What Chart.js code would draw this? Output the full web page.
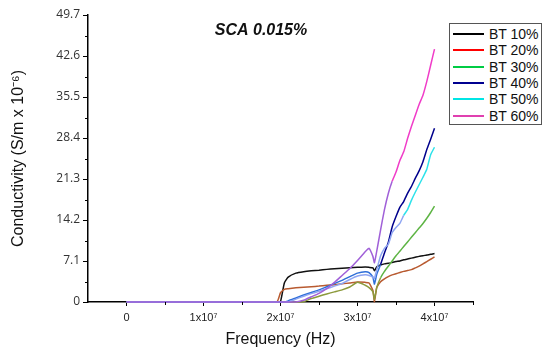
<!DOCTYPE html>
<html>
<head>
<meta charset="utf-8">
<script src="https://cdn.jsdelivr.net/npm/chart.js@4"></script>
<style>
  body { margin: 0; background: #fff; }
  #wrap { position: relative; width: 550px; height: 361px; }
  #legend {
    position: absolute; left: 449px; top: 23px; width: 93px; height: 102px;
    border: 1px solid #555; box-sizing: border-box; background: #fff;
    font: 14px "Liberation Sans", Arial, sans-serif; color: #111;
  }
  #legend div { position: absolute; left: 0; height: 16px; line-height: 16px; white-space: nowrap; }
  #legend span.ln { position: absolute; left: 3px; top: 7px; width: 31px; height: 0; border-top: 2px solid #000; }
  #legend span.tx { position: absolute; left: 39px; top: 0; }
</style>
</head>
<body>
<div id="wrap">
  <canvas id="chart" width="550" height="361"></canvas>
  <div id="legend"></div>
</div>
<script>
// frequency (Hz), shared by all series
const freqHz = [0, 1.95e7, 2.0e7, 2.05e7, 2.1e7, 2.2e7, 2.3e7, 2.4e7, 2.5e7, 2.6e7, 2.7e7, 2.8e7, 2.9e7, 3.0e7,
  3.1e7, 3.15e7, 3.2e7, 3.22e7, 3.25e7, 3.3e7, 3.35e7, 3.4e7, 3.45e7, 3.5e7, 3.55e7, 3.6e7, 3.65e7, 3.7e7,
  3.75e7, 3.8e7, 3.85e7, 3.9e7, 3.95e7, 4.0e7];

// conductivity (S/m x 10^-6)
const bt10 = [0, 0, 0.1, 3.3, 4.3, 5.0, 5.25, 5.4, 5.5, 5.65, 5.75, 5.85, 5.95, 6.0, 6.05, 6.0, 5.9, 5.4, 6.1, 6.4,
  6.6, 6.7, 6.85, 7.0, 7.1, 7.3, 7.45, 7.6, 7.75, 7.9, 8.0, 8.15, 8.25, 8.4];
const bt20 = [0, 0, 1.6, 2.2, 2.3, 2.45, 2.55, 2.65, 2.75, 2.9, 3.0, 3.15, 3.3, 3.45, 3.4, 3.3, 2.0, 0.05, 2.5, 3.5,
  4.0, 4.4, 4.7, 4.9, 5.1, 5.3, 5.45, 5.6, 5.9, 6.2, 6.6, 7.0, 7.4, 7.8];
const bt30 = [0, 0, 0, 0, 0, 0, 0.05, 0.6, 1.0, 1.4, 1.75, 2.1, 2.6, 3.4, 2.9, 2.5, 1.8, 0.45, 2.5, 4.2,
  5.3, 6.2, 7.1, 8.0, 8.8, 9.6, 10.4, 11.2, 12.0, 12.8, 13.6, 14.5, 15.5, 16.6];
const bt40 = [0, 0, 0, 0, 0.2, 0.7, 1.2, 1.65, 2.1, 2.65, 3.2, 3.75, 4.4, 5.0, 5.25, 5.1, 4.3, 3.1, 4.8, 6.5,
  8.5, 10.3, 13.0, 14.8, 16.4, 17.4, 18.8, 20.0, 21.4, 22.7, 24.3, 26.4, 28.2, 30.1];
const bt50 = [0, 0, 0, 0, 0, 0.5, 1.0, 1.45, 1.85, 2.3, 2.75, 3.2, 3.9, 4.5, 4.7, 4.6, 4.3, 4.1, 5.6, 8.0,
  9.3, 10.0, 12.0, 12.9, 13.6, 15.0, 16.0, 17.6, 19.0, 20.3, 21.6, 23.0, 25.5, 26.8];
const bt60 = [0, 0, 0, 0, 0, 0, 0.3, 0.9, 1.5, 2.3, 3.4, 4.6, 5.8, 7.2, 8.7, 9.3, 7.9, 6.8, 8.8, 12.5,
  16.0, 18.8, 20.9, 22.5, 24.5, 26.0, 28.3, 30.4, 32.3, 34.2, 35.8, 38.2, 41.0, 43.8];

const seriesNames = ['BT 10%', 'BT 20%', 'BT 30%', 'BT 40%', 'BT 50%', 'BT 60%'];
const seriesValues = [bt10, bt20, bt30, bt40, bt50, bt60];

const xTickValues = [0, 1e7, 2e7, 3e7, 4e7];
const xTickLabels = ['0', '1x10\u2077', '2x10\u2077', '3x10\u2077', '4x10\u2077'];
const xMinorTicks = [0.5e7, 1.5e7, 2.5e7, 3.5e7, 4.5e7];
const yTickValues = [0, 7.1, 14.2, 21.3, 28.4, 35.5, 42.6, 49.7];
const yTickLabels = ['0', '7.1', '14.2', '21.3', '28.4', '35.5', '42.6', '49.7'];
const yMinorTicks = [3.55, 10.65, 17.75, 24.85, 31.95, 39.05, 46.15];

// legend colour, and line colours before / after a switch frequency (the scan mixes two tints)
const legendColors = ['#000000', '#ff0000', '#00cc44', '#000090', '#00e5e5', '#e040b0'];
const lineStyles = [
  { early: '#111111', late: '#111111', at: 0 },
  { early: '#b0602c', late: '#b85a30', at: 0 },
  { early: '#8c9a3c', late: '#5db444', at: 3.3e7 },
  { early: '#2f6fd8', late: '#00008c', at: 3.3e7 },
  { early: '#8fa6f2', late: '#2ee2ea', at: 3.6e7 },
  { early: '#a060d8', late: '#f03cc8', at: 3.45e7 }
];

const datasets = seriesNames.map((name, i) => ({
  label: name,
  data: freqHz.map((f, j) => ({ x: f, y: seriesValues[i][j] })),
  borderColor: lineStyles[i].early,
  borderWidth: 1.5,
  pointRadius: 0,
  tension: 0.15,
  clip: 3,
  order: 5 - i,
  segment: {
    borderColor: ctx => ctx.p0.parsed.x < lineStyles[i].at ? lineStyles[i].early : lineStyles[i].late
  }
}));

const legendEl = document.getElementById('legend');
const rowTops = [2, 18, 35, 51, 67, 84];
seriesNames.forEach((name, i) => {
  const row = document.createElement('div');
  row.style.top = rowTops[i] + 'px';
  row.innerHTML = '<span class="ln" style="border-color:' + legendColors[i] + '"></span><span class="tx">' + name + '</span>';
  legendEl.appendChild(row);
});

const extras = {
  id: 'extras',
  afterDraw(chart) {
    const ctx = chart.ctx;
    const xs = chart.scales.x, ys = chart.scales.y;
    ctx.save();
    ctx.strokeStyle = '#000';
    ctx.lineWidth = 1;
    ctx.beginPath();
    xMinorTicks.forEach(v => {
      const px = Math.round(xs.getPixelForValue(v)) + 0.5;
      ctx.moveTo(px, xs.top);
      ctx.lineTo(px, xs.top + 3);
    });
    yMinorTicks.forEach(v => {
      const py = Math.round(ys.getPixelForValue(v)) + 0.5;
      ctx.moveTo(ys.right, py);
      ctx.lineTo(ys.right - 3, py);
    });
    ctx.stroke();
    ctx.fillStyle = '#111';
    ctx.font = 'italic bold 16px "Liberation Sans", Arial, sans-serif';
    ctx.textAlign = 'center';
    ctx.textBaseline = 'middle';
    ctx.fillText('SCA 0.015%', 261, 31);
    ctx.restore();
  }
};

new Chart(document.getElementById('chart'), {
  type: 'line',
  data: { datasets },
  plugins: [extras],
  options: {
    responsive: false,
    animation: false,
    layout: { padding: { top: 15, right: 77, left: 0, bottom: 0 } },
    plugins: { legend: { display: false }, tooltip: { enabled: false } },
    scales: {
      x: {
        type: 'linear',
        min: -0.5e7,
        max: 4.5e7,
        afterFit: s => { s.height = 59; },
        afterBuildTicks: s => { s.ticks = xTickValues.map(v => ({ value: v })); },
        grid: { drawOnChartArea: false, color: '#000', tickLength: 4 },
        border: { color: '#000', width: 1.5 },
        ticks: {
          padding: 5,
          color: '#222',
          maxRotation: 0,
          font: { family: '"Liberation Sans", Arial, sans-serif', size: 11 },
          callback: (v, i) => xTickLabels[i]
        },
        title: {
          display: true,
          text: 'Frequency (Hz)',
          color: '#111',
          font: { family: '"Liberation Sans", Arial, sans-serif', size: 16 },
          padding: { top: 0, bottom: 12 }
        }
      },
      y: {
        min: 0,
        max: 49.7,
        afterFit: s => { s.width = 88; },
        afterBuildTicks: s => { s.ticks = yTickValues.map(v => ({ value: v })); },
        grid: { drawOnChartArea: false, color: '#000', tickLength: 5 },
        border: { color: '#000', width: 1.5 },
        ticks: {
          padding: 3,
          color: '#333',
          font: { family: '"Open Sans", sans-serif', size: 12 },
          callback: (v, i) => yTickLabels[i]
        },
        title: {
          display: true,
          text: 'Conductivity (S/m x 10\u207B\u2076)',
          color: '#111',
          font: { family: '"Liberation Sans", Arial, sans-serif', size: 16 },
          padding: { top: 9, bottom: 0 }
        }
      }
    }
  }
});
</script>
</body>
</html>
